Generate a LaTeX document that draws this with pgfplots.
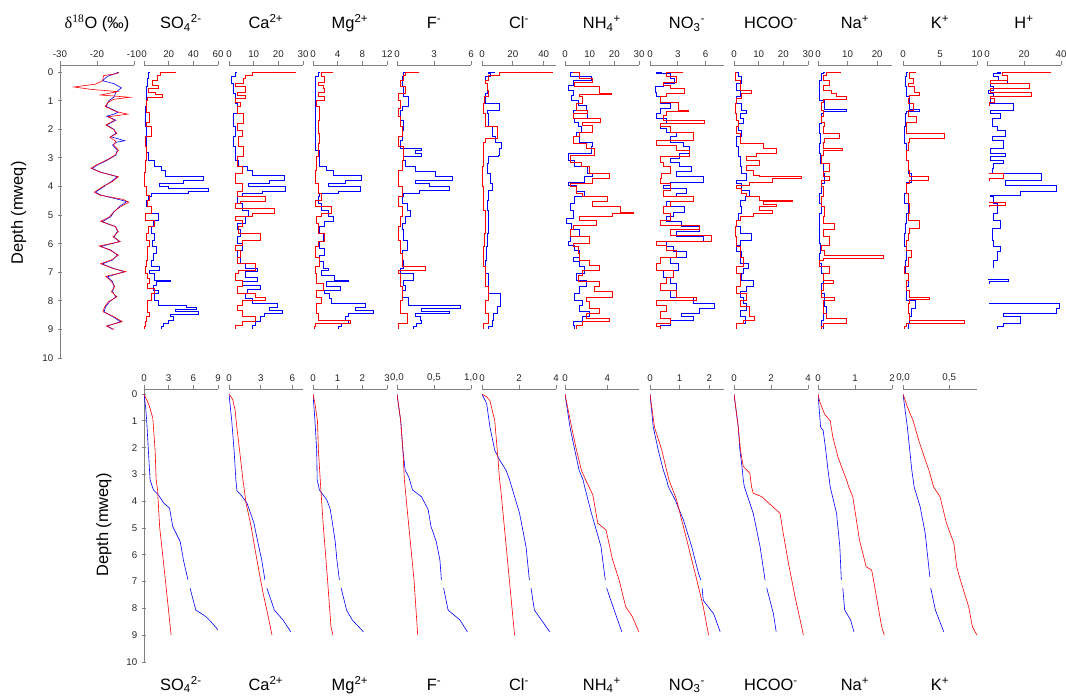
\documentclass[border=0pt]{standalone}
\usepackage{fontspec}
\setmainfont{Liberation Sans}
\newfontfamily\seriffont{Liberation Serif}
\usepackage{pgfplots}
\pgfplotsset{compat=1.18}
\newcommand{\tfont}{\fontsize{12.3}{14}\selectfont}
\pgfplotsset{
  base/.style={
    scale only axis, width=55.5pt, anchor=north west,
    y dir=reverse,
    axis x line=top,
    axis line style={draw=gray, line width=0.6pt, -},
    tick style={draw=gray, line width=0.6pt},
    tick align=outside, major tick length=3pt,
    minor tick num=0,
    ticklabel style={font=\fontsize{7.3}{8}\selectfont, text=black!85},
    xticklabel style={yshift=-1pt},
    /pgf/number format/assume math mode=true,
    unbounded coords=jump,
  },
  toprow/.style={base, height=219.75pt, ymin=-0.25, ymax=10},
  botrow/.style={base, height=204.75pt, ymin=-0.19, ymax=10},
  noy/.style={axis y line=none},
  depthax/.style={axis y line=left, ytick={0,1,...,10}, axis line style={draw=gray, line width=0.6pt, -}},
  bs/.style={blue, line width=0.45pt, const plot},
  rs/.style={red, line width=0.45pt, const plot},
  bc/.style={blue, line width=0.45pt},
  rc/.style={red, line width=0.45pt},
  comma1/.style={xticklabel style={/pgf/number format/.cd, fixed, fixed zerofill, precision=1, use comma}},
}
\begin{document}
\begin{tikzpicture}
\useasboundingbox (0,0) rectangle (799.5pt,522pt);

% ---------------- top row: profiles ----------------
\begin{axis}[toprow, depthax, name=t1, at={(45pt,473.25pt)}, xmin=-30, xmax=-10, xtick={-30,-20,-10}]
\addplot[bc] coordinates {(-14.1,0) (-17.2,0.15) (-18.5,0.3) (-15.5,0.4) (-13.4,0.55) (-14.9,0.7) (-15.4,0.87) (-16.8,1.0) (-17.5,1.2) (-14.3,1.4) (-15.4,1.47) (-17.4,1.54) (-14.9,1.68) (-17.4,1.85) (-15.4,2.0) (-14.9,2.14) (-16.3,2.26) (-12.5,2.4) (-14.7,2.45) (-15.8,2.55) (-14.5,2.73) (-14.9,2.9) (-17.2,3.08) (-19.9,3.25) (-21.3,3.37) (-19.0,3.5) (-14.5,3.66) (-16.3,3.84) (-18.1,4.0) (-20.4,4.2) (-19.0,4.3) (-13.6,4.47) (-12.0,4.53) (-14.0,4.71) (-15.4,4.89) (-16.3,5.06) (-18.6,5.23) (-14.9,5.41) (-14.5,5.58) (-15.4,5.76) (-14.0,5.93) (-19.0,6.1) (-16.3,6.22) (-14.5,6.4) (-15.8,6.57) (-18.6,6.71) (-15.4,6.87) (-12.6,6.98) (-17.2,7.16) (-15.8,7.33) (-15.4,7.5) (-15.8,7.68) (-14.9,7.86) (-16.6,8.03) (-17.6,8.2) (-18.1,8.38) (-15.8,8.55) (-13.6,8.73) (-17.2,8.88) (-15.8,9.0)};
\addplot[rc] coordinates {(-14.1,0) (-14.5,0.05) (-18.2,0.12) (-18.5,0.3) (-20.4,0.42) (-26.2,0.52) (-21.8,0.6) (-14.4,0.68) (-19.0,0.8) (-11.1,0.88) (-15.5,0.95) (-17.0,1.05) (-17.8,1.2) (-14.8,1.38) (-11.7,1.47) (-17.0,1.56) (-15.2,1.68) (-17.6,1.85) (-15.6,2.0) (-14.6,2.14) (-16.5,2.28) (-14.9,2.42) (-15.5,2.55) (-14.2,2.73) (-15.1,2.9) (-17.5,3.08) (-20.2,3.25) (-21.6,3.36) (-19.2,3.5) (-14.2,3.66) (-16.0,3.84) (-18.4,4.0) (-20.7,4.2) (-19.3,4.3) (-13.0,4.45) (-11.4,4.55) (-13.8,4.72) (-15.6,4.9) (-16.6,5.06) (-19.0,5.22) (-15.1,5.4) (-14.2,5.58) (-15.7,5.76) (-13.7,5.93) (-19.4,6.08) (-16.6,6.22) (-14.2,6.4) (-16.1,6.57) (-19.0,6.7) (-15.7,6.87) (-12.2,6.98) (-17.6,7.14) (-16.1,7.33) (-15.2,7.5) (-16.1,7.68) (-14.6,7.86) (-16.9,8.03) (-17.9,8.2) (-18.4,8.38) (-15.5,8.55) (-13.2,8.73) (-17.5,8.88) (-15.3,9.0)};
\end{axis}

\begin{axis}[toprow, noy, name=t2, at={(108pt,473.25pt)}, xmin=0, xmax=60, xtick={0,20,40,60}]
\addplot[bs] coordinates {(4.6,0) (3.5,0.2) (2.5,0.5) (1.9,0.75) (1.5,1.2) (1.0,1.9) (1.5,2.4) (2,2.8) (3.3,3.1) (8.7,3.3) (14,3.43) (17,3.66) (48,3.78) (32,3.9) (12.8,4.0) (19.6,4.07) (52,4.16) (36,4.24) (6,4.34) (3.3,4.48) (1.9,4.7) (6,4.94) (11.4,5.17) (7.4,5.4) (6,5.64) (8.7,5.87) (6.5,6.1) (10,6.34) (7.4,6.57) (6,6.8) (12,6.92) (4.6,7.04) (8.7,7.27) (21,7.33) (10,7.45) (7.4,7.62) (11.4,7.74) (8.7,7.97) (11.4,8.15) (34.6,8.23) (42.8,8.3) (25,8.38) (44,8.47) (21,8.55) (23.7,8.67) (19.6,8.79) (15.5,8.9) (14,9.0)};
\addplot[rs] coordinates {(26,0.02) (13,0.1) (10.5,0.28) (6.5,0.45) (11.5,0.57) (3.5,0.7) (9,0.76) (14.6,0.87) (2.5,1.0) (2,1.1) (1.5,1.4) (4.6,1.74) (2,1.9) (6,2.26) (1,2.6) (2,2.9) (1.5,3.1) (0.8,3.5) (0.5,4.0) (2,4.3) (4.6,4.5) (2.5,4.7) (6,4.95) (1,5.2) (8.7,5.4) (3.3,5.65) (2,5.9) (4.6,6.1) (2.5,6.3) (3,6.57) (1.5,6.8) (1,7.04) (2.5,7.2) (4.6,7.4) (3,7.55) (8.7,7.74) (6,7.97) (2.7,8.2) (3,8.4) (4.6,8.55) (2,8.7) (1,8.9) (0.5,9.0)};
\end{axis}

\begin{axis}[toprow, noy, name=t3, at={(171.75pt,473.25pt)}, xmin=0, xmax=30, xtick={0,10,20,30}]
\addplot[bs] coordinates {(3.2,0) (2.5,0.16) (1.1,0.4) (1.8,0.75) (2.5,1.1) (3.2,1.45) (1.8,1.9) (2.5,2.26) (1.8,2.6) (2.5,3.08) (3.9,3.3) (7.3,3.43) (9.4,3.6) (22.4,3.78) (16.2,3.9) (8,4.0) (22.8,4.16) (13.5,4.24) (5.2,4.36) (3.2,4.6) (5.2,4.83) (8,5.06) (6.6,5.3) (3.2,5.5) (4.5,5.76) (3.2,6.0) (5.2,6.22) (3.2,6.46) (4.5,6.7) (6.6,6.86) (11.4,6.98) (6.6,7.16) (11.4,7.33) (5.2,7.45) (12.8,7.6) (7.3,7.74) (6.6,7.9) (9.4,8.1) (19.7,8.23) (16.2,8.32) (21.7,8.44) (14.2,8.55) (12.8,8.73) (10.7,8.85) (9.4,9.0)};
\addplot[rs] coordinates {(27,0.02) (9.4,0.1) (6.6,0.22) (5.9,0.4) (2.5,0.5) (6.6,0.7) (3.2,0.8) (6.6,0.92) (2.5,1.04) (4.5,1.2) (3.2,1.45) (5.9,1.8) (3.2,2.03) (5.2,2.26) (3.9,2.6) (5.9,2.96) (3.2,3.3) (5.2,3.55) (2.5,3.9) (5.2,4.18) (3.2,4.36) (14.9,4.53) (4.5,4.6) (2.5,4.77) (18.3,4.94) (9.4,5.06) (2.5,5.17) (5.2,5.4) (3.9,5.64) (12.8,5.9) (5.2,6.05) (2.5,6.22) (4.5,6.46) (3.2,6.7) (10.7,6.92) (3.9,7.04) (2.5,7.27) (5.2,7.5) (3.2,7.74) (10.7,7.86) (14.9,7.97) (5.2,8.15) (3.2,8.32) (5.2,8.55) (10.7,8.73) (5.2,8.85) (2.5,9.0)};
\end{axis}

\begin{axis}[toprow, noy, name=t4, at={(234.75pt,473.25pt)}, xmin=0, xmax=12, xtick={0,4,8,12}]
\addplot[bs] coordinates {(1.1,0) (0.8,0.16) (0.3,0.5) (0.3,1.0) (0.3,2.0) (0.4,2.73) (1.1,3.3) (2.2,3.43) (3.3,3.6) (7.8,3.78) (5.2,3.9) (2.5,4.0) (7.6,4.16) (4.1,4.24) (1.1,4.36) (0.8,4.6) (1.4,4.83) (2.5,5.06) (3.3,5.23) (1.9,5.4) (1.1,5.64) (1.6,5.93) (1.1,6.16) (1.9,6.4) (1.1,6.63) (1.6,6.86) (2.5,6.94) (1.4,7.1) (3.5,7.27) (5.7,7.33) (2.2,7.5) (4.4,7.62) (1.9,7.74) (2.7,7.9) (3.0,8.1) (8.5,8.23) (6.8,8.32) (9.8,8.44) (5.7,8.55) (5.2,8.67) (5.7,8.79) (4.6,8.9) (4.1,9.0)};
\addplot[rs] coordinates {(3.3,0.02) (1.4,0.16) (1.9,0.34) (0.8,0.45) (1.6,0.57) (1.9,0.69) (0.8,0.86) (1.8,0.98) (0.5,1.2) (1.1,1.68) (0.8,2.14) (1.1,2.5) (0.8,2.96) (0.5,3.43) (0.3,3.9) (0.8,4.24) (1.4,4.48) (0.3,4.7) (3.0,4.94) (1.4,5.06) (0.5,5.3) (0.8,5.64) (1.9,5.93) (0.8,6.1) (0.3,6.46) (1.1,6.8) (0.3,7.04) (0.5,7.4) (1.6,7.62) (0.5,7.86) (1.4,8.1) (0.5,8.44) (0.8,8.67) (6.0,8.79) (0.3,8.9) (0.2,9.0)};
\end{axis}

\begin{axis}[toprow, noy, name=t5, at={(297.75pt,473.25pt)}, xmin=0, xmax=6, xtick={0,3,6}]
\addplot[bs] coordinates {(0.7,0) (0.55,0.16) (0.4,0.5) (0.55,0.86) (0.95,1.2) (0.4,1.33) (0.27,1.68) (0.55,2.03) (0.4,2.38) (0.27,2.67) (2.0,2.73) (1.5,2.84) (2.0,2.96) (0.55,3.08) (0.7,3.3) (1.5,3.48) (3.1,3.66) (4.5,3.78) (1.5,3.9) (2.6,4.0) (4.2,4.13) (1.8,4.24) (0.55,4.36) (0.4,4.6) (0.8,4.83) (1.1,5.06) (0.7,5.3) (0.4,5.5) (0.55,5.87) (0.8,6.22) (0.4,6.57) (0.55,6.86) (0.27,7.04) (1.35,7.27) (0.55,7.45) (0.7,7.62) (0.4,7.86) (0.95,8.15) (5.1,8.27) (2.0,8.35) (4.2,8.44) (1.5,8.55) (1.9,8.67) (2.0,8.79) (1.6,8.9) (1.35,9.0)};
\addplot[rs] coordinates {(1.75,0.02) (0.7,0.1) (0.55,0.28) (0.27,0.5) (0.7,0.75) (0.14,0.98) (0.27,1.27) (0.14,1.56) (0.27,1.9) (0.4,2.26) (0.14,2.6) (0.55,3.08) (0.4,3.43) (0.14,3.66) (0.08,4.0) (0.4,4.36) (0.14,4.7) (0.4,5.06) (0.27,5.4) (0.14,5.87) (0.27,6.34) (0.4,6.8) (2.3,6.94) (0.14,7.04) (0.27,7.5) (0.4,7.97) (0.27,8.44) (0.8,8.79) (0.14,9.0)};
\end{axis}

\begin{axis}[toprow, noy, name=t6, at={(361.5pt,473.25pt)}, xmin=0, xmax=48, xtick={0,20,40}]
\addplot[bs] coordinates {(8.7,0) (4.3,0.05) (5.4,0.16) (2.2,0.4) (3.3,0.75) (2.2,1.1) (10.9,1.33) (3.3,1.45) (4.3,1.9) (6.5,2.26) (8.7,2.44) (12.6,2.67) (10.9,2.9) (10.4,2.96) (4.3,3.2) (3.3,3.55) (5.4,3.9) (6.5,4.13) (4.3,4.48) (3.3,4.83) (4.3,5.17) (3.9,5.64) (3.3,6.1) (2.8,6.57) (2.2,7.04) (4.3,7.33) (3.9,7.74) (12,8.2) (9.8,8.44) (7.6,8.67) (6.5,8.9) (4.3,9.0)};
\addplot[rs] coordinates {(46,0.02) (10.9,0.1) (4.3,0.28) (2.2,0.4) (3.3,0.63) (4.3,0.86) (1.7,1.1) (1.1,1.45) (2.2,1.9) (9.8,2.32) (2.2,2.44) (1.1,2.84) (0.7,3.3) (0.4,4.0) (1.1,4.83) (2.2,5.64) (1.7,6.1) (1.1,6.8) (2.2,7.5) (4.3,7.97) (2.2,8.44) (4.3,8.79) (1.1,9.0)};
\end{axis}

\begin{axis}[toprow, noy, name=t7, at={(423.75pt,473.25pt)}, xmin=0, xmax=30, xtick={0,10,20,30}]
\addplot[bs] coordinates {(3.3,0) (2.0,0.16) (10.5,0.28) (3.3,0.45) (1.3,0.63) (3.3,0.8) (2.6,0.98) (5.3,1.15) (8.6,1.33) (3.3,1.45) (9.2,1.62) (3.9,1.74) (5.3,1.9) (6.6,2.09) (4.6,2.26) (5.9,2.44) (11.2,2.6) (10.5,2.84) (1.3,3.08) (3.9,3.3) (9.2,3.55) (11.2,3.66) (7.9,3.84) (1.3,3.96) (4.6,4.18) (7.9,4.36) (3.9,4.6) (2.0,4.83) (3.3,5.12) (0.7,5.3) (2.6,5.5) (5.9,5.76) (2.0,5.93) (1.3,6.05) (3.9,6.22) (5.9,6.46) (3.3,6.63) (5.9,6.8) (7.9,7.04) (4.6,7.27) (8.6,7.5) (5.9,7.74) (3.9,7.97) (7.2,8.15) (5.9,8.38) (9.9,8.55) (7.2,8.73) (3.3,8.85) (3.9,9.0)};
\addplot[rs] coordinates {(3.3,0.02) (5.9,0.22) (11.2,0.34) (3.9,0.5) (13.8,0.75) (18.8,0.78) (5.9,0.86) (7.2,1.1) (4.6,1.33) (9.2,1.45) (3.3,1.62) (14.5,1.74) (7.2,1.85) (11.2,2.09) (5.9,2.26) (3.3,2.5) (8.6,2.67) (11.8,2.9) (2.0,3.15) (6.6,3.3) (9.9,3.55) (17.8,3.72) (11.2,3.9) (2.0,4.0) (4.6,4.24) (7.2,4.36) (17.1,4.53) (11.2,4.7) (22.4,4.9) (27.6,4.94) (19.1,5.06) (5.9,5.17) (12.5,5.35) (3.3,5.5) (2.0,5.76) (9.9,6.0) (3.3,6.1) (5.3,6.34) (5.9,6.57) (9.9,6.75) (13.8,6.92) (7.2,7.1) (5.3,7.33) (13.8,7.5) (11.8,7.68) (19.1,7.86) (8.6,8.03) (9.9,8.27) (13.8,8.44) (8.6,8.6) (17.8,8.73) (7.2,8.85) (4.6,9.0)};
\end{axis}

\begin{axis}[toprow, noy, name=t8, at={(487.5pt,473.25pt)}, xmin=0, xmax=8, xtick={0,3,6}]
\addplot[bs] coordinates {(1.25,0) (0.71,0.05) (2.14,0.22) (2.68,0.4) (1.43,0.5) (0.54,0.7) (0.71,0.86) (1.07,1.1) (2.14,1.27) (1.07,1.45) (0.71,1.62) (1.79,1.8) (1.07,1.97) (1.79,2.09) (2.86,2.26) (2.14,2.44) (3.57,2.6) (4.29,2.84) (3.21,3.02) (2.14,3.15) (3.21,3.3) (4.46,3.48) (2.86,3.66) (5.71,3.84) (2.14,3.96) (1.43,4.07) (3.93,4.24) (2.86,4.36) (4.64,4.53) (1.79,4.7) (3.75,4.9) (2.5,5.06) (1.79,5.23) (3.39,5.4) (5.36,5.58) (2.86,5.76) (5.71,5.93) (1.79,6.1) (2.5,6.28) (3.93,6.46) (2.14,6.7) (3.04,6.92) (1.43,7.16) (2.14,7.4) (2.86,7.62) (2.14,7.86) (4.64,8.1) (6.96,8.27) (5.36,8.44) (3.39,8.55) (4.64,8.67) (2.14,8.85) (1.07,9.0)};
\addplot[rs] coordinates {(3.57,0.02) (1.79,0.16) (2.86,0.34) (1.43,0.45) (2.14,0.57) (3.75,0.75) (1.79,0.86) (1.07,1.04) (3.04,1.33) (4.1,1.38) (1.79,1.5) (1.43,1.68) (5.9,1.8) (1.07,1.9) (2.14,2.09) (4.64,2.38) (0.71,2.55) (2.86,2.73) (4.29,2.96) (1.07,3.15) (1.43,3.3) (2.14,3.55) (1.25,3.72) (1.07,3.9) (2.14,4.13) (1.43,4.36) (4.64,4.53) (2.14,4.7) (1.43,4.94) (2.14,5.17) (1.07,5.35) (5.36,5.5) (2.14,5.7) (6.6,5.93) (0.71,6.05) (1.79,6.22) (2.86,6.46) (1.07,6.7) (0.71,6.92) (2.5,7.16) (1.79,7.4) (1.07,7.62) (2.86,7.86) (5.0,7.97) (0.71,8.15) (1.79,8.38) (1.07,8.6) (2.14,8.79) (0.71,8.9) (1.07,9.0)};
\end{axis}

\begin{axis}[toprow, noy, name=t9, at={(550.5pt,473.25pt)}, xmin=0, xmax=30, xtick={0,10,20,30}]
\addplot[bs] coordinates {(1.1,0) (1.7,0.16) (3.1,0.4) (1.1,0.63) (2.4,0.86) (1.1,1.1) (3.1,1.33) (5.1,1.45) (2.4,1.62) (3.7,1.8) (1.7,2.03) (3.1,2.26) (1.1,2.6) (1.7,2.96) (2.4,3.3) (3.1,3.55) (5.1,3.78) (1.1,3.9) (3.1,4.13) (6.4,4.36) (4.4,4.48) (2.4,4.7) (3.1,4.94) (1.7,5.17) (1.1,5.4) (2.4,5.64) (7.1,5.87) (2.4,6.05) (1.1,6.28) (3.1,6.46) (2.4,6.7) (5.7,6.86) (3.7,7.04) (3.1,7.27) (7.7,7.5) (5.1,7.68) (2.4,7.86) (3.7,8.1) (5.1,8.32) (2.4,8.55) (4.4,8.79) (1.1,9.0)};
\addplot[rs] coordinates {(1.1,0.02) (0.4,0.28) (2.4,0.63) (7.1,0.75) (3.1,0.92) (1.1,1.1) (0.4,1.45) (1.1,1.68) (1.7,1.9) (1.1,2.14) (2.4,2.5) (11.7,2.67) (17.1,2.84) (9.1,2.96) (5.1,3.08) (10.4,3.25) (5.1,3.43) (7.7,3.6) (10.4,3.66) (27.1,3.72) (15.7,3.84) (6.4,3.96) (1.1,4.07) (3.1,4.24) (5.1,4.36) (10.4,4.48) (23.7,4.53) (11.7,4.62) (17.1,4.7) (10.4,4.83) (15.7,4.94) (7.7,5.06) (2.4,5.17) (1.1,5.4) (0.4,5.76) (1.1,6.1) (2.4,6.46) (3.7,6.8) (1.1,7.04) (2.4,7.5) (1.1,7.74) (5.1,7.97) (2.4,8.2) (6.4,8.55) (8.4,8.67) (3.7,8.79) (1.1,9.0)};
\end{axis}

\begin{axis}[toprow, noy, name=t10, at={(613.5pt,473.25pt)}, xmin=0, xmax=25, xtick={0,10,20}]
\addplot[bs] coordinates {(2.2,0) (1.7,0.05) (1.1,0.28) (0.6,0.5) (0.3,0.75) (0.6,0.98) (2.2,1.3) (9.4,1.36) (1.7,1.45) (1.1,1.8) (0.6,2.14) (0.9,2.5) (0.6,2.84) (0.8,3.2) (1.7,3.55) (2.2,3.9) (1.1,4.24) (0.6,4.6) (1.1,4.94) (0.6,5.3) (0.3,5.64) (0.6,6.0) (0.8,6.34) (0.6,6.7) (1.1,7.04) (1.7,7.4) (1.1,7.74) (2.2,8.2) (2.8,8.44) (1.7,8.67) (1.1,8.9) (1.7,9.0)};
\addplot[rs] coordinates {(7.8,0.02) (2.8,0.1) (1.7,0.28) (3.9,0.45) (1.7,0.63) (4.4,0.75) (6.1,0.86) (9.4,0.95) (1.7,1.04) (1.1,1.33) (1.7,1.56) (1.1,1.74) (2.2,1.9) (1.7,2.14) (7.2,2.32) (2.2,2.44) (1.7,2.67) (8.3,2.75) (1.7,2.9) (1.1,3.2) (3.9,3.48) (1.7,3.66) (3.9,3.78) (1.1,4.0) (1.7,4.36) (1.1,4.7) (2.2,5.06) (1.7,5.3) (5.6,5.5) (1.7,5.76) (3.9,6.05) (1.1,6.22) (2.2,6.4) (22.2,6.52) (1.7,6.57) (0.6,6.8) (3.9,7.04) (1.7,7.27) (5.0,7.4) (1.7,7.62) (1.1,7.86) (5.6,7.97) (1.7,8.15) (1.7,8.44) (2.8,8.6) (9.4,8.79) (1.7,8.9) (1.1,9.0)};
\end{axis}

\begin{axis}[toprow, noy, name=t11, at={(677.25pt,473.25pt)}, xmin=0, xmax=10, xtick={0,5,10}]
\addplot[bs] coordinates {(0.68,0) (0.45,0.16) (0.36,0.5) (0.45,0.86) (0.9,1.3) (2.25,1.36) (0.45,1.45) (0.36,1.9) (0.23,2.5) (0.45,3.08) (0.68,3.55) (1.13,3.84) (0.45,4.24) (0.23,4.6) (0.68,4.94) (0.45,5.3) (0.36,5.64) (0.23,6.1) (0.45,6.57) (0.36,7.04) (0.68,7.5) (0.45,7.97) (1.6,8.27) (1.13,8.55) (0.9,8.79) (0.68,9.0)};
\addplot[rs] coordinates {(1.8,0.02) (0.9,0.22) (1.35,0.4) (0.68,0.5) (1.58,0.7) (2.25,0.8) (0.9,0.92) (0.68,1.1) (1.35,1.33) (0.68,1.56) (1.8,1.74) (0.45,1.9) (0.45,2.14) (5.6,2.32) (0.9,2.44) (0.68,2.73) (0.45,3.08) (0.68,3.43) (0.9,3.66) (3.4,3.78) (0.9,3.9) (0.45,4.24) (0.68,4.6) (0.9,4.94) (0.68,5.17) (2.25,5.47) (0.9,5.64) (0.68,5.87) (0.45,6.22) (1.13,6.46) (0.68,6.8) (0.23,7.04) (0.68,7.27) (0.45,7.62) (0.9,7.86) (3.6,7.95) (0.9,8.1) (0.68,8.44) (0.9,8.67) (8.3,8.79) (0.45,8.9) (0.23,9.0)};
\end{axis}

\begin{axis}[toprow, noy, name=t12, at={(740.25pt,473.25pt)}, xmin=0, xmax=40, xtick={0,20,40}]
\addplot[bs] coordinates {(5.3,0) (7.1,0.05) (3.6,0.16) (6.2,0.28) (10.7,0.4) (1.8,0.49) (3.6,0.63) (0.9,0.75) (3.6,0.86) (1.8,1.1) (14.2,1.33) (1.8,1.45) (7.1,1.62) (2.7,1.9) (5.3,2.03) (9.8,2.24) (2.7,2.38) (8.9,2.67) (1.8,2.84) (9.8,2.96) (1.8,3.08) (8.9,3.2) (3.6,3.37) (2.7,3.55) (29.3,3.78) (9.8,3.96) (37.3,4.18) (17.8,4.3) (1.8,4.36) (3.6,4.6) (5.3,4.94) (3.6,5.17) (7.1,5.47) (2.7,5.87) (3.6,6.1) (7.1,6.28) (5.3,6.57) (3.6,6.86) (nan,7.0) (0.5,7.25) (11.5,7.33) (1,7.4) (nan,7.6) (1,8.1) (39.1,8.27) (37.3,8.44) (8.9,8.55) (17.8,8.79) (8.9,8.9) (5.3,9.0)};
\addplot[rs] coordinates {(34.6,0.02) (8,0.1) (10.7,0.28) (1.8,0.4) (23,0.57) (1.8,0.69) (24,0.86) (1.8,0.92) (4,1.05) (1.5,1.2) (nan,2) (1,3.55) (8.9,3.72) (1,3.8) (nan,4.2) (1,4.55) (9.8,4.65) (1,4.72)};
\end{axis}

% ---------------- bottom row: cumulative ----------------
\begin{axis}[botrow, depthax, name=b1, at={(108pt,230.25pt)}, xmin=0, xmax=9, xtick={0,3,6,9}]
\addplot[bc] coordinates {(0,0) (0.2,0.5) (0.33,1.0) (0.53,2.1) (0.74,3.2) (1.15,3.58) (1.77,3.77) (2.4,4.07) (3.1,4.25) (3.5,4.95) (4.4,5.5) (4.8,6.2) (5.35,6.94) (nan,7.1) (5.6,7.24) (6.3,8.06) (7.5,8.3) (8.15,8.5) (9.0,8.8)};
\addplot[rc] coordinates {(0,0) (0.3,0.2) (0.53,0.35) (0.8,0.6) (1.07,0.9) (1.35,2.1) (1.48,3.2) (1.65,3.58) (1.9,4.95) (2.6,6.94) (3.3,9.0)};
\end{axis}

\begin{axis}[botrow, noy, name=b2, at={(171.75pt,230.25pt)}, xmin=0, xmax=7, xtick={0,3,6}]
\addplot[bc] coordinates {(0,0) (0.26,1.0) (0.48,2.1) (0.65,3.2) (0.75,3.6) (1.2,3.8) (1.7,4.07) (2.35,4.8) (2.68,5.44) (3.1,6.2) (3.4,6.94) (nan,7.1) (3.58,7.24) (4.29,8.06) (5.1,8.43) (5.84,8.87)};
\addplot[rc] coordinates {(0,0) (0.35,0.2) (0.58,0.6) (0.74,1.23) (1.0,2.1) (1.32,3.2) (1.45,3.58) (1.61,4.07) (2.1,4.95) (2.42,5.7) (2.9,6.75) (3.23,7.44) (3.65,8.2) (4.07,9.0)};
\end{axis}

\begin{axis}[botrow, noy, name=b3, at={(234.75pt,230.25pt)}, xmin=0, xmax=3, xtick={0,1,2,3}]
\addplot[bc] coordinates {(0,0) (0.08,1.0) (0.15,2.1) (0.17,3.2) (0.26,3.58) (0.56,3.95) (0.7,4.3) (0.81,4.95) (0.9,5.5) (0.97,6.2) (1.07,6.94) (nan,7.1) (1.14,7.24) (1.36,8.06) (1.59,8.43) (2.04,8.87)};
\addplot[rc] coordinates {(0,0) (0.08,0.35) (0.18,1.0) (0.22,2.1) (0.3,3.3) (0.32,3.58) (0.42,4.95) (0.59,6.94) (0.73,8.7) (0.81,9.0)};
\end{axis}

\begin{axis}[botrow, noy, comma1, name=b4, at={(297.75pt,230.25pt)}, xmin=0, xmax=1, xtick={0,0.5,1}]
\addplot[bc] coordinates {(0,0) (0.05,1.0) (0.08,2.1) (0.11,2.84) (0.16,3.1) (0.21,3.58) (0.33,3.83) (0.42,4.3) (0.46,4.95) (0.53,5.5) (0.58,6.2) (0.6,6.94) (nan,7.1) (0.63,7.24) (0.69,8.06) (0.85,8.43) (0.95,8.87)};
\addplot[rc] coordinates {(0,0) (0.05,1.0) (0.08,2.1) (0.1,3.2) (0.16,4.95) (0.23,6.94) (0.28,9.0)};
\end{axis}

\begin{axis}[botrow, noy, name=b5, at={(361.5pt,230.25pt)}, xmin=0, xmax=4, xtick={0,2,4}]
\addplot[bc] coordinates {(0,0) (0.25,0.35) (0.43,1.23) (0.69,2.1) (0.96,2.47) (1.3,2.84) (1.49,3.2) (2.03,4.45) (2.38,5.7) (2.56,6.94) (nan,7.1) (2.65,7.24) (2.83,8.06) (3.66,8.87)};
\addplot[rc] coordinates {(0,0) (0.25,0.1) (0.43,0.25) (0.69,1.0) (0.87,2.47) (0.95,3.2) (1.0,3.46) (1.31,5.7) (1.76,9.0)};
\end{axis}

\begin{axis}[botrow, noy, name=b6, at={(423.75pt,230.25pt)}, xmin=0, xmax=7, xtick={0,4}]
\addplot[bc] coordinates {(0,0) (0.47,1.23) (0.93,2.1) (1.33,2.84) (1.7,3.2) (1.86,3.46) (2.5,4.45) (3.41,5.7) (3.81,6.94) (nan,7.1) (3.94,7.24) (4.65,8.06) (5.37,8.87)};
\addplot[rc] coordinates {(0,0) (0.62,1.23) (1.09,2.1) (1.55,2.84) (1.95,3.2) (2.63,3.76) (3.1,4.82) (3.88,5.07) (4.5,6.19) (5.12,6.94) (5.74,7.94) (6.36,8.3) (6.98,8.87)};
\end{axis}

\begin{axis}[botrow, noy, name=b7, at={(487.5pt,230.25pt)}, xmin=0, xmax=2.5, xtick={0,1,2}]
\addplot[bc] coordinates {(0,0) (0.11,1.23) (0.28,2.1) (0.45,2.84) (0.56,3.2) (0.62,3.46) (0.85,3.95) (1.13,4.7) (1.41,5.7) (1.64,6.7) (1.72,6.94) (nan,7.1) (1.76,7.24) (1.8,7.7) (2.15,8.2) (2.37,8.87)};
\addplot[rc] coordinates {(0,0) (0.15,1.23) (0.4,2.1) (0.56,2.84) (0.64,3.2) (0.73,3.46) (0.9,3.95) (1.07,4.7) (1.3,5.7) (1.58,6.94) (1.8,7.94) (1.98,9.0)};
\end{axis}

\begin{axis}[botrow, noy, name=b8, at={(550.5pt,230.25pt)}, xmin=0, xmax=4, xtick={0,2,4}]
\addplot[bc] coordinates {(0,0) (0.23,1.23) (0.32,2.1) (0.43,2.7) (0.5,3.2) (0.56,3.46) (1.04,4.45) (1.41,5.7) (1.68,6.94) (nan,7.1) (1.77,7.24) (2.13,8.2) (2.28,8.87)};
\addplot[rc] coordinates {(0,0) (0.23,1.23) (0.35,2.1) (0.5,2.7) (0.86,2.96) (0.9,3.2) (0.95,3.46) (1.04,3.7) (1.5,3.83) (2.49,4.45) (2.63,5.07) (2.94,6.3) (3.3,7.57) (3.66,8.7) (3.75,9.0)};
\end{axis}

\begin{axis}[botrow, noy, name=b9, at={(613.5pt,230.25pt)}, xmin=0, xmax=2, xtick={0,1,2}]
\addplot[bc] coordinates {(0,0) (0.07,1.23) (0.14,1.36) (0.21,2.1) (0.27,2.84) (0.33,3.46) (0.5,4.45) (0.59,5.7) (0.63,6.94) (nan,7.1) (0.67,7.24) (0.72,8.06) (0.88,8.43) (0.97,8.87)};
\addplot[rc] coordinates {(0,0) (0.05,0.3) (0.18,0.75) (0.33,1.0) (0.4,1.6) (0.54,2.35) (0.67,2.84) (0.77,3.2) (0.83,3.46) (0.94,3.83) (1.01,4.45) (1.12,5.44) (1.3,6.44) (1.45,6.57) (1.5,6.94) (1.61,7.81) (1.72,8.68) (1.79,9.0)};
\end{axis}

\begin{axis}[botrow, noy, comma1, name=b10, at={(677.25pt,230.25pt)}, xmin=0, xmax=0.8, xtick={0,0.5}]
\addplot[bc] coordinates {(0,0) (0.047,1.23) (0.073,2.1) (0.095,2.84) (0.11,3.2) (0.12,3.46) (0.185,4.2) (0.24,5.2) (0.29,6.82) (nan,7.0) (0.3,7.24) (0.35,8.06) (0.44,8.87)};
\addplot[rc] coordinates {(0,0) (0.05,0.5) (0.11,1.0) (0.17,1.73) (0.23,2.35) (0.28,2.84) (0.31,3.2) (0.33,3.46) (0.4,3.83) (0.47,4.82) (0.55,5.57) (0.58,6.44) (0.62,6.94) (0.71,7.94) (0.75,8.68) (0.8,9.0)};
\end{axis}

% ---------------- titles and depth labels ----------------
\begin{scope}[every node/.style={font=\tfont, anchor=base}]
\node at ([yshift=27.2pt]t1.north) {{\seriffont δ\textsuperscript{18}}O (‰)};
\node at ([yshift=27.2pt]t2.north) {SO\textsubscript{4}\textsuperscript{2-}};
\node at ([yshift=27.2pt]t3.north) {Ca\textsuperscript{2+}};
\node at ([yshift=27.2pt]t4.north) {Mg\textsuperscript{2+}};
\node at ([yshift=27.2pt]t5.north) {F\textsuperscript{-}};
\node at ([yshift=27.2pt]t6.north) {Cl\textsuperscript{-}};
\node at ([yshift=27.2pt]t7.north) {NH\textsubscript{4}\textsuperscript{+}};
\node at ([yshift=27.2pt]t8.north) {NO\textsubscript{3}\textsuperscript{-}};
\node at ([yshift=27.2pt]t9.north) {HCOO\textsuperscript{-}};
\node at ([yshift=27.2pt]t10.north) {Na\textsuperscript{+}};
\node at ([yshift=27.2pt]t11.north) {K\textsuperscript{+}};
\node at ([yshift=27.2pt]t12.north) {H\textsuperscript{+}};
\node at ([yshift=-21pt]b1.south) {SO\textsubscript{4}\textsuperscript{2-}};
\node at ([yshift=-21pt]b2.south) {Ca\textsuperscript{2+}};
\node at ([yshift=-21pt]b3.south) {Mg\textsuperscript{2+}};
\node at ([yshift=-21pt]b4.south) {F\textsuperscript{-}};
\node at ([yshift=-21pt]b5.south) {Cl\textsuperscript{-}};
\node at ([yshift=-21pt]b6.south) {NH\textsubscript{4}\textsuperscript{+}};
\node at ([yshift=-21pt]b7.south) {NO\textsubscript{3}\textsuperscript{-}};
\node at ([yshift=-21pt]b8.south) {HCOO\textsuperscript{-}};
\node at ([yshift=-21pt]b9.south) {Na\textsuperscript{+}};
\node at ([yshift=-21pt]b10.south) {K\textsuperscript{+}};
\end{scope}
\node[font=\tfont, rotate=90] at (13.9pt,362.25pt) {Depth (mweq)};
\node[font=\tfont, rotate=90] at (78pt,128.25pt) {Depth (mweq)};
\end{tikzpicture}
\end{document}
